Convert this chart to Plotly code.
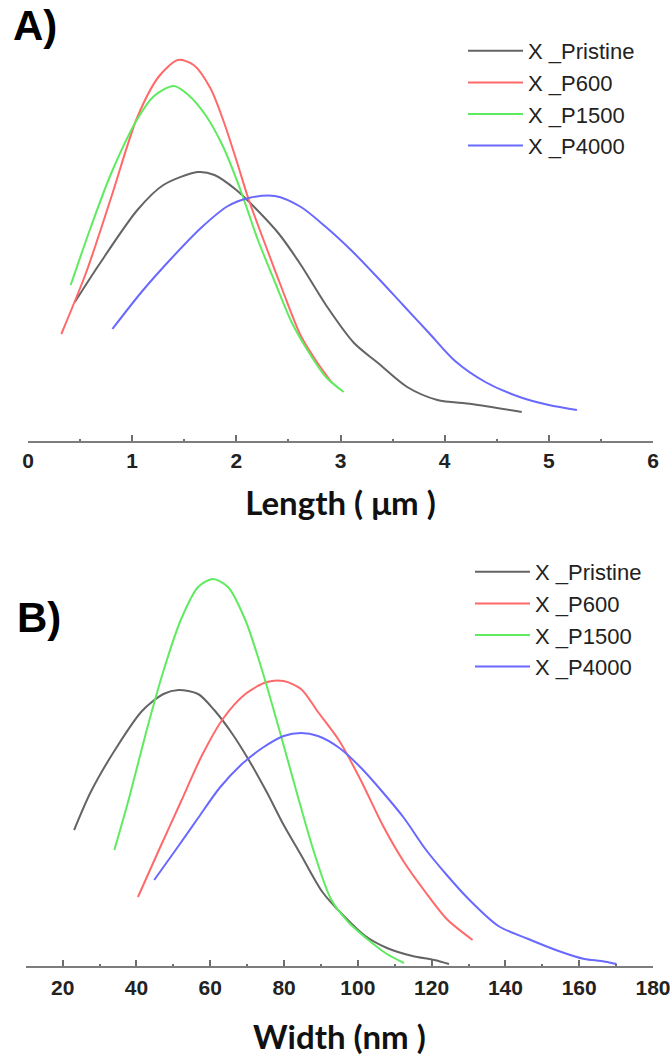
import plotly.graph_objects as go

# ---------------- Panel A: Length distribution (µm) ----------------
a_pristine_x = [0.45, 0.68, 1.05, 1.30, 1.63, 1.79, 2.00, 2.20, 2.41, 2.62, 2.86, 3.13, 3.36, 3.64, 3.93, 4.26, 4.74]
a_pristine_y = [0.139, 0.176, 0.231, 0.256, 0.269, 0.266, 0.251, 0.231, 0.207, 0.176, 0.136, 0.098, 0.078, 0.054, 0.041, 0.037, 0.029]

a_p600_x = [0.32, 0.56, 0.80, 1.05, 1.26, 1.44, 1.59, 1.75, 1.87, 2.00, 2.12, 2.29, 2.45, 2.62, 2.78, 2.92]
a_p600_y = [0.107, 0.169, 0.244, 0.324, 0.365, 0.381, 0.376, 0.353, 0.322, 0.281, 0.241, 0.193, 0.149, 0.105, 0.078, 0.058]

a_p1500_x = [0.41, 0.60, 0.80, 1.05, 1.21, 1.40, 1.54, 1.71, 1.87, 2.04, 2.20, 2.37, 2.53, 2.70, 2.86, 3.03]
a_p1500_y = [0.156, 0.213, 0.268, 0.322, 0.345, 0.355, 0.346, 0.325, 0.295, 0.251, 0.203, 0.159, 0.119, 0.088, 0.064, 0.049]

a_p4000_x = [0.81, 1.09, 1.38, 1.67, 1.92, 2.12, 2.37, 2.62, 2.86, 3.11, 3.36, 3.60, 3.85, 4.10, 4.39, 4.72, 5.00, 5.27]
a_p4000_y = [0.112, 0.149, 0.183, 0.214, 0.235, 0.243, 0.245, 0.234, 0.214, 0.190, 0.163, 0.136, 0.108, 0.080, 0.059, 0.044, 0.036, 0.031]

# ---------------- Panel B: Width distribution (nm) ----------------
b_pristine_x = [23.1, 27.6, 34.5, 41.5, 47.3, 51.4, 56.7, 61.3, 66.0, 70.6, 75.3, 79.9, 84.6, 90.4, 96.2, 102.0, 107.9, 114.8, 120.7, 124.7]
b_pristine_y = [0.136, 0.174, 0.218, 0.255, 0.272, 0.276, 0.272, 0.255, 0.232, 0.205, 0.174, 0.141, 0.111, 0.074, 0.050, 0.030, 0.018, 0.010, 0.006, 0.002]

b_p600_x = [40.4, 46.2, 52.0, 57.8, 63.6, 69.5, 75.3, 79.9, 84.6, 89.2, 95.0, 100.9, 106.7, 112.5, 118.3, 124.1, 131.1]
b_p600_y = [0.069, 0.117, 0.164, 0.211, 0.248, 0.272, 0.284, 0.285, 0.277, 0.254, 0.225, 0.185, 0.141, 0.104, 0.074, 0.047, 0.026]

b_p1500_x = [34.0, 38.0, 42.7, 47.3, 52.0, 56.7, 60.7, 64.8, 69.5, 74.1, 78.8, 83.4, 88.1, 92.7, 97.4, 103.2, 107.9, 112.5]
b_p1500_y = [0.116, 0.168, 0.235, 0.295, 0.346, 0.379, 0.387, 0.379, 0.346, 0.295, 0.235, 0.174, 0.114, 0.067, 0.044, 0.025, 0.012, 0.003]

b_p4000_x = [44.8, 50.8, 56.7, 62.5, 68.3, 74.1, 79.9, 84.6, 89.2, 95.0, 100.9, 106.7, 112.5, 118.3, 124.1, 130.0, 138.1, 146.2, 154.4, 161.4, 166.0, 170.1]
b_p4000_y = [0.086, 0.117, 0.148, 0.178, 0.201, 0.218, 0.230, 0.233, 0.230, 0.218, 0.198, 0.174, 0.148, 0.117, 0.091, 0.067, 0.040, 0.027, 0.015, 0.007, 0.005, 0.002]

series_names = ["X _Pristine", "X _P600", "X _P1500", "X _P4000"]
series_colors = ["rgb(100,100,100)", "rgb(255,105,105)", "rgb(95,235,95)", "rgb(105,105,255)"]

a_tickvals = [0, 1, 2, 3, 4, 5, 6]
b_tickvals = [20, 40, 60, 80, 100, 120, 140, 160, 180]

W, H = 670, 1057

fig = go.Figure()

a_data = [(a_pristine_x, a_pristine_y), (a_p600_x, a_p600_y), (a_p1500_x, a_p1500_y), (a_p4000_x, a_p4000_y)]
b_data = [(b_pristine_x, b_pristine_y), (b_p600_x, b_p600_y), (b_p1500_x, b_p1500_y), (b_p4000_x, b_p4000_y)]

for (xs, ys), name, col in zip(a_data, series_names, series_colors):
    fig.add_trace(go.Scatter(x=xs, y=ys, mode="lines", name=name,
                             line=dict(color=col, width=2, shape="spline", smoothing=0.8),
                             xaxis="x", yaxis="y", legend="legend"))
for (xs, ys), name, col in zip(b_data, series_names, series_colors):
    fig.add_trace(go.Scatter(x=xs, y=ys, mode="lines", name=name,
                             line=dict(color=col, width=2, shape="spline", smoothing=0.8),
                             xaxis="x2", yaxis="y2", legend="legend2"))


def py(px):
    return 1 - px / H


def axis_common(standoff):
    return dict(
        showline=True, linecolor="rgb(125,125,125)", linewidth=2,
        ticks="inside", ticklen=6, tickwidth=1.5, tickcolor="rgb(110,110,110)",
        showgrid=False, zeroline=False, automargin=False, ticklabeloverflow="allow",
        tickfont=dict(family="Liberation Sans", size=21, color="#222222", weight="bold"),
        ticklabelstandoff=standoff,
    )


legend_font = dict(family="Liberation Sans", size=22, color="#222222")

fig.update_layout(
    width=W, height=H,
    margin=dict(l=0, r=0, t=0, b=0, pad=0),
    paper_bgcolor="white", plot_bgcolor="white",
    xaxis=dict(domain=[28 / W, 653 / W], range=[0, 6], tickvals=a_tickvals, anchor="y",
               minor=dict(ticks="inside", ticklen=2, dtick=0.5, tickcolor="rgb(110,110,110)"),
               title=dict(text="Length ( μm )", font=dict(family="Lato", size=33, color="#111111", weight="bold"),
                          standoff=21),
               **axis_common(0)),
    yaxis=dict(domain=[py(441), py(20)], range=[0, 0.421], visible=False, anchor="x", automargin=False),
    xaxis2=dict(domain=[25.8 / W, 653 / W], range=[10, 180], tickvals=b_tickvals, anchor="y2",
                minor=dict(ticks="inside", ticklen=2, dtick=10, tick0=10, tickcolor="rgb(110,110,110)"),
                title=dict(text="Width (nm )", font=dict(family="Lato", size=33, color="#111111", weight="bold"),
                           standoff=28),
                **axis_common(2)),
    yaxis2=dict(domain=[py(966), py(545)], range=[0, 0.421], visible=False, anchor="x2", automargin=False),
    legend=dict(x=463 / W, y=py(30), xanchor="left", yanchor="top", bgcolor="rgba(0,0,0,0)",
                font=legend_font, itemwidth=55, tracegroupgap=0),
    legend2=dict(x=470 / W, y=py(551), xanchor="left", yanchor="top", bgcolor="rgba(0,0,0,0)",
                 font=legend_font, itemwidth=55, tracegroupgap=0),
    annotations=[
        dict(text="A)", x=11 / W, y=py(0), xref="paper", yref="paper", xanchor="left", yanchor="top",
             showarrow=False, font=dict(family="Liberation Sans", size=42, color="black", weight="bold")),
        dict(text="B)", x=15 / W, y=py(592), xref="paper", yref="paper", xanchor="left", yanchor="top",
             showarrow=False, font=dict(family="Liberation Sans", size=42, color="black", weight="bold")),
    ],
)

fig.write_html("out.html",
               config={"displayModeBar": False},
               post_script="document.body.style.margin='0px';document.body.style.overflow='hidden';")
